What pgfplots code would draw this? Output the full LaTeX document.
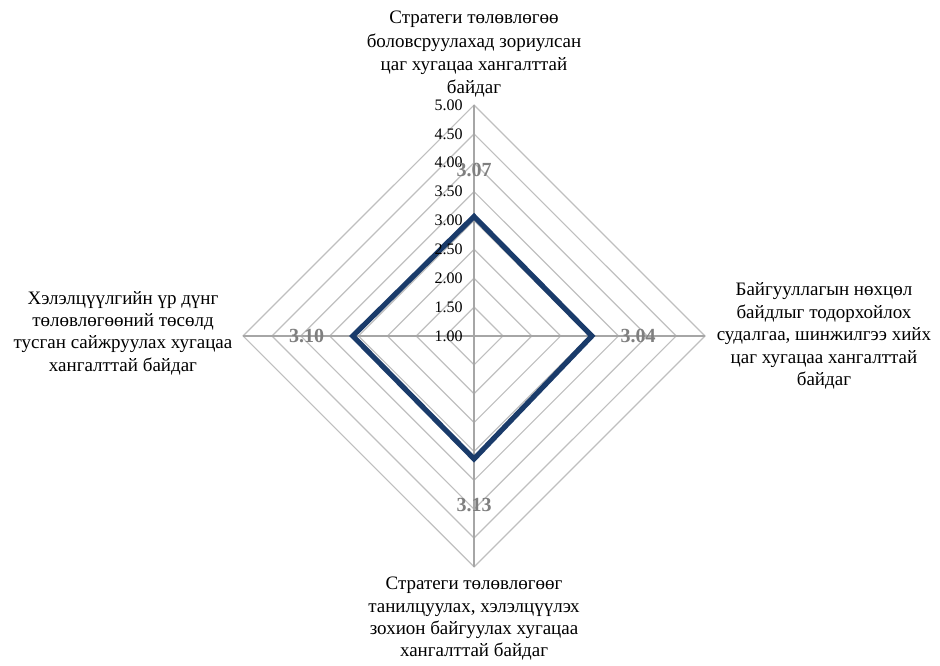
\documentclass[border=0pt]{standalone}
\usepackage{pgfplots}
\pgfplotsset{compat=1.18}
\usepackage{pgfplotstable}
\usepackage{fontspec}
\setmainfont{Liberation Serif}
\definecolor{navy}{HTML}{1A3B6A}
\definecolor{ringgray}{HTML}{BFBFBF}
\definecolor{spokegray}{HTML}{A6A6A6}
\definecolor{labgray}{HTML}{7F7F7F}

\pgfplotstableread{
angle value lab
90  3.07 3.07
0   3.04 3.04
270 3.13 3.13
180 3.10 3.10
}\datatable

\pgfplotstableread{
x y lab
0 0 1.00
0 0.5 1.50
0 1 2.00
0 1.5 2.50
0 2 3.00
0 2.5 3.50
0 3 4.00
0 3.5 4.50
0 4 5.00
}\ticktable

\begin{document}
\begin{tikzpicture}
\begin{axis}[
  scale only axis,
  width=470pt, height=332.5pt,
  xmin=-8.21, xmax=8.07, ymin=-5.70, ymax=5.82,
  hide axis,
  clip=false,
]
% rings
\pgfplotsinvokeforeach{0.5,1,1.5,2,2.5,3,3.5,4}{
  \addplot[ringgray, line width=0.6pt, mark=none] coordinates {(0,#1) (#1,0) (0,-#1) (-#1,0)} -- cycle;
}
% spokes
\addplot[spokegray, line width=0.6pt, mark=none] coordinates {(0,-4) (0,4)};
\addplot[spokegray, line width=0.6pt, mark=none] coordinates {(-4,0) (4,0)};
% tick labels
\addplot[draw=none, mark=none, nodes near coords, point meta=explicit symbolic,
  nodes near coords style={anchor=east, inner sep=0pt, xshift=-5.5pt, font=\fontsize{8}{9}\selectfont, text=black}]
  table[x=x, y=y, meta=lab] {\ticktable};
% data series
\addplot[navy, line width=2.6pt, line join=miter, mark=none]
  table[x expr={cos(\thisrow{angle})*(\thisrow{value}-1)}, y expr={sin(\thisrow{angle})*(\thisrow{value}-1)}] {\datatable} -- cycle;
% data labels
\addplot[draw=none, mark=none, nodes near coords, point meta=explicit symbolic,
  nodes near coords style={anchor=center, inner sep=0pt, font=\bfseries\fontsize{10}{12}\selectfont, text=labgray}]
  table[x expr={cos(\thisrow{angle})*(\thisrow{value}-1+0.8)}, y expr={sin(\thisrow{angle})*(\thisrow{value}-1+0.8)}, meta=lab] {\datatable};
% category labels
\node[align=center, font=\fontsize{9.5}{11.6}\selectfont] at (axis cs:0,4.88) {Стратеги төлөвлөгөө\\боловсруулахад зориулсан\\цаг хугацаа хангалттай\\байдаг};
\node[align=center, font=\fontsize{9.5}{11.2}\selectfont] at (axis cs:6.06,0) {Байгууллагын нөхцөл\\байдлыг тодорхойлох\\судалгаа, шинжилгээ хийх\\цаг хугацаа хангалттай\\байдаг};
\node[align=center, font=\fontsize{9.5}{11.2}\selectfont] at (axis cs:0,-4.90) {Стратеги төлөвлөгөөг\\танилцуулах, хэлэлцүүлэх\\зохион байгуулах хугацаа\\хангалттай байдаг};
\node[align=center, font=\fontsize{9.5}{11.2}\selectfont] at (axis cs:-6.08,0.05) {Хэлэлцүүлгийн үр дүнг\\төлөвлөгөөний төсөлд\\тусган сайжруулах хугацаа\\хангалттай байдаг};
\end{axis}
\pgfresetboundingbox
\useasboundingbox (current axis.south west) rectangle (current axis.north east);
\end{tikzpicture}
\end{document}
